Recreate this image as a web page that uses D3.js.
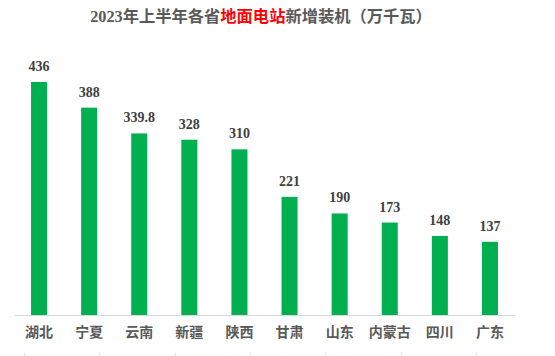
<!DOCTYPE html>
<html><head><meta charset="utf-8">
<script src="https://cdn.jsdelivr.net/npm/d3@7"></script>
<style>
html,body{margin:0;padding:0;background:#fff;}
svg{display:block;}
</style></head>
<body>
<svg id="chart" width="555" height="356"></svg>
<script>
const categories = ["湖北","宁夏","云南","新疆","陕西","甘肃","山东","内蒙古","四川","广东"];
const values = [436, 388, 339.8, 328, 310, 221, 190, 173, 148, 137];
const valueLabels = ["436","388","339.8","328","310","221","190","173","148","137"];
const titleParts = [
  {text:"2023", color:"#595959", serif:true},
  {text:"年上半年各省", color:"#595959"},
  {text:"地面电站", color:"#FF0000"},
  {text:"新增装机（万千瓦）", color:"#595959"}
];

const svg = d3.select("#chart");
const W = 555, H = 356;
const left = 14, right = 515, axisY = 315;

const x = d3.scaleBand().domain(categories).range([left, right]).paddingInner(0.68).paddingOuter(0.34);
const y = d3.scaleLinear().domain([0, 500]).range([axisY, axisY - 267.2]);

// title
const title = svg.append("text")
  .attr("x", 261).attr("y", 22)
  .attr("text-anchor", "middle")
  .style("font-size", "16px").style("font-weight", "bold")
  .style("font-family", "'Noto Sans CJK SC', sans-serif");
titleParts.forEach(p => {
  title.append("tspan").text(p.text).attr("fill", p.color)
    .style("font-family", p.serif ? "'Liberation Serif', serif" : "'Noto Sans CJK SC', sans-serif");
});
const tw = title.node().getComputedTextLength();
if (tw > 0) title.style("font-size", (16 * 342 / tw).toFixed(2) + "px");

// bars
svg.append("g").selectAll("rect").data(values).join("rect")
  .attr("x", (d,i) => x(categories[i]))
  .attr("y", d => y(d))
  .attr("width", x.bandwidth())
  .attr("height", d => axisY - y(d))
  .attr("fill", "#00B050");

// value labels
svg.append("g").selectAll("text").data(values).join("text")
  .attr("x", (d,i) => x(categories[i]) + x.bandwidth()/2)
  .attr("y", d => y(d) - 11)
  .attr("text-anchor", "middle")
  .attr("fill", "#404040")
  .style("font-family", "'Liberation Serif', serif")
  .style("font-weight", "bold")
  .style("font-size", "14px")
  .text((d,i) => valueLabels[i]);

// axis
const axis = d3.axisBottom(x).tickSize(0).tickPadding(12);
const gAxis = svg.append("g").attr("transform", `translate(0,${axisY})`).call(axis);
gAxis.select(".domain").attr("stroke", "#D9D9D9").attr("stroke-width", 1);
gAxis.selectAll("text")
  .attr("fill", "#595959")
  .style("font-family", "'Noto Sans CJK SC', sans-serif")
  .style("font-weight", "bold")
  .style("font-size", "14px");

// faint marks at bottom edge
const marks = d3.range(7);
const mx = d3.scaleLinear().domain([0, 6]).range([24, 476]);
svg.append("g").selectAll("line").data(marks).join("line")
  .attr("x1", d => Math.round(mx(d)) + 0.5).attr("x2", d => Math.round(mx(d)) + 0.5)
  .attr("y1", 353).attr("y2", 356)
  .attr("stroke", "#E3E3E3").attr("stroke-width", 1);
</script>
</body></html>
